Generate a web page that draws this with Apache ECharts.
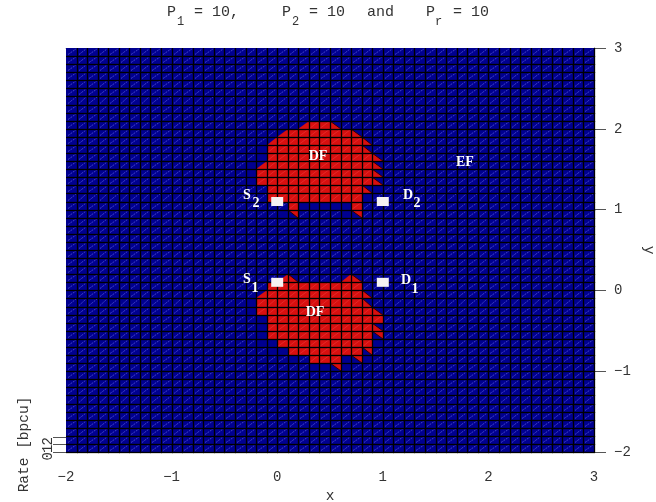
<!DOCTYPE html>
<html><head><meta charset="utf-8">
<style>html,body{margin:0;padding:0;background:#fff}#c{width:656px;height:502px}</style>
<script src="https://cdn.jsdelivr.net/npm/echarts@6/dist/echarts.min.js"></script></head>
<body><div id="c"></div>
<script>
// Mesh: 50 x 50 cells of 0.1 x 0.1. Cell column c starts at x=-2+0.1c, row r starts at y=3-0.1r (top).
const xRange = [-2, 3];
const yRange = [-2, 3];
const rateRange = [0, 2];
const rateTicks = [0, 1, 2];
const nCols = 50, nRows = 50;
// DF region: [row, firstCol, lastCol] of fully red cells
const dfFullRuns = [
 [9,23,24],[10,21,26],[11,20,27],[12,19,27],[13,19,28],[14,19,28],[15,18,28],[16,18,28],[17,19,27],[18,19,27],[19,21,21],[19,27,27],
 [29,19,27],[30,19,27],[31,18,27],[32,18,28],[33,19,29],[34,19,28],[35,19,28],[36,20,28],[37,21,27],[38,23,25]
];
// half red cells: [row, col]
const dfLowerRight = [[9,22],[10,20],[11,19],[14,18],[28,20],[28,26],[30,18]];
const dfLowerLeft = [[9,25],[10,27],[11,28],[12,28],[13,29],[14,29],[15,29],[16,29],[17,28],[28,21],[28,27],[30,28],[31,28],[32,29],[34,29]];
const dfUpperRight = [[20,21],[20,27],[35,29],[37,28],[38,27],[39,25]];
// shaded (plain blue) cells around the DF regions: [row, col]
const shadedCells = [[12,18],[13,18],[14,17],[15,17],[16,17],[19,22],[19,23],[19,24],[19,25],[19,26],[20,20],[20,26],[18,28],[17,29],
 [31,17],[32,17],[33,18],[34,18],[35,18],[36,18],[36,19],[37,19],[37,20],[38,21],[39,23],[39,24],[39,26],[38,26],[38,28],[36,29]];
const terminals = [[0,1.1],[1,1.1],[0,0.1],[1,0.1]];
const cellLabels = [['DF',0.386,1.657],['DF',0.358,-0.273],['EF',1.778,1.583],
 ['S',-0.286,1.175],['2',-0.2,1.076],['D',1.24,1.175],['2',1.324,1.076],
 ['S',-0.286,0.135],['1',-0.21,0.024],['D',1.22,0.12],['1',1.305,0.01]];
const titleParts = [['P',167,5,15],['1',177,16,12],['= 10,',194,5,15],['P',282,5,15],['2',292,16,12],['= 10',309,5,15],['and',367,5,15],['P',426,5,15],['r',435,16,12],['= 10',453,5,15]];

const key = (r,c) => r*1000+c;
const kind = new Map();
dfFullRuns.forEach(([r,a,b]) => { for (let c=a;c<=b;c++) kind.set(key(r,c),1); });
dfLowerRight.forEach(([r,c]) => kind.set(key(r,c),2));
dfLowerLeft.forEach(([r,c]) => kind.set(key(r,c),3));
dfUpperRight.forEach(([r,c]) => kind.set(key(r,c),4));
shadedCells.forEach(([r,c]) => kind.set(key(r,c),5));
const cells = [];
for (let r=0;r<nRows;r++) for (let c=0;c<nCols;c++) cells.push([c,r,kind.get(key(r,c))||0]);

const BLUE='#000090', RED='#d80f0f', mono='"Liberation Mono", monospace', INK='#333';
const GX={left:66,top:48,width:528,height:404,outerBoundsMode:'none'};

function corners(api){
  const c=api.value(0), r=api.value(1);
  const x0=xRange[0]+c*0.1, x1=x0+0.1, y1=yRange[1]-r*0.1, y0=y1-0.1;
  const pt=(x,y)=>{const p=api.coord([x,y]);return [Math.round(p[0]),Math.round(p[1])];};
  return {TL:pt(x0,y1),TR:pt(x1,y1),BL:pt(x0,y0),BR:pt(x1,y0)};
}
function renderFill(params, api){
  const k=api.value(2), {TL,TR,BL,BR}=corners(api);
  const kids=[{type:'polygon',shape:{points:[TL,TR,BR,BL]},style:{fill:k===1?RED:BLUE,stroke:null}}];
  if(k===2) kids.push({type:'polygon',shape:{points:[TR,BR,BL]},style:{fill:RED,stroke:null}});
  if(k===3) kids.push({type:'polygon',shape:{points:[TL,BR,BL]},style:{fill:RED,stroke:null}});
  if(k===4) kids.push({type:'polygon',shape:{points:[TL,TR,BR]},style:{fill:RED,stroke:null}});
  if(k===0) kids.push({type:'line',shape:{x1:BL[0]+2,y1:BL[1]-1.5,x2:TR[0]-1,y2:TR[1]+1},style:{stroke:'#5a5ad8',lineWidth:1,lineDash:[2,1],opacity:0.75}});
  else if(k===1) kids.push({type:'line',shape:{x1:BL[0],y1:BL[1],x2:TR[0],y2:TR[1]},style:{stroke:'#e83a3a',lineWidth:1,opacity:0.6}});
  else if(k===3||k===4) kids.push({type:'line',shape:{x1:TL[0],y1:TL[1],x2:BR[0],y2:BR[1]},style:{stroke:'#300',lineWidth:1}});
  return {type:'group',children:kids};
}
function renderEdges(params, api){
  const {TR,BL,BR}=corners(api);
  return {type:'group',children:[
    {type:'line',shape:{x1:BL[0],y1:BL[1]+0.5,x2:BR[0]+1,y2:BR[1]+0.5},style:{stroke:'#000',lineWidth:1.3}},
    {type:'line',shape:{x1:BR[0]+0.5,y1:BR[1]+1,x2:TR[0]+0.5,y2:TR[1]},style:{stroke:'#000',lineWidth:1.3}}
  ]};
}

const chart=echarts.init(document.getElementById('c'),null,{renderer:'canvas'});
const lbl={fontFamily:mono,fontSize:14,color:INK};
const nameStyle={fontFamily:mono,fontSize:14.5,color:INK};
const minus=v=>String(v).replace('-','\u2212');
chart.setOption({
  animation:false,
  backgroundColor:'#fff',
  title:titleParts.map(([t,x,y,s])=>({text:t,left:x,top:y,padding:0,textStyle:{fontFamily:mono,fontSize:s,fontWeight:'normal',color:INK}})),
  grid:[GX,{left:66,top:437,width:528,height:15,outerBoundsMode:'none'}],
  xAxis:[
   {type:'value',min:xRange[0],max:xRange[1],interval:1,position:'bottom',gridIndex:0,
    axisLine:{show:false},splitLine:{show:false},axisTick:{length:12,lineStyle:{color:'#555',width:1}},
    axisLabel:Object.assign({margin:18,hideOverlap:false,showMinLabel:true,showMaxLabel:true,formatter:minus},lbl),
    name:'x',nameLocation:'middle',nameGap:37,nameTextStyle:nameStyle},
   {type:'value',min:xRange[0],max:xRange[1],interval:1,position:'top',gridIndex:0,
    axisLine:{show:true,onZero:false,lineStyle:{color:'#999',width:1}},axisTick:{show:false},axisLabel:{show:false},splitLine:{show:false}},
   {type:'value',min:xRange[0],max:xRange[1],gridIndex:1,axisLine:{show:false},axisTick:{show:false},axisLabel:{show:false},splitLine:{show:false}}
  ],
  yAxis:[
   {type:'value',min:yRange[0],max:yRange[1],interval:1,position:'right',gridIndex:0,
    axisLine:{show:true,onZero:false,lineStyle:{color:'#555',width:1}},splitLine:{show:false},
    axisTick:{length:12,lineStyle:{color:'#555',width:1}},
    axisLabel:Object.assign({margin:20,hideOverlap:false,showMinLabel:true,showMaxLabel:true,formatter:minus},lbl),
    name:'y',nameLocation:'middle',nameRotate:-90,nameGap:40,nameTextStyle:nameStyle},
   {type:'value',min:rateRange[0],max:rateRange[1],interval:1,position:'left',gridIndex:1,
    axisLine:{show:false,onZero:false},splitLine:{show:false},
    axisTick:{length:13,lineStyle:{color:'#555',width:1}},
    axisLabel:{show:false},
    name:'Rate [bpcu]',nameLocation:'middle',nameRotate:90,nameGap:34,nameTextStyle:nameStyle}
  ],
  series:[
   {type:'custom',xAxisIndex:0,yAxisIndex:0,data:cells,renderItem:renderFill,silent:true,clip:false,z:2,encode:{x:0,y:1}},
   {type:'custom',xAxisIndex:0,yAxisIndex:0,data:cells,renderItem:renderEdges,silent:true,clip:false,z:3,encode:{x:0,y:1}},
   {type:'scatter',xAxisIndex:0,yAxisIndex:0,data:terminals,symbol:'rect',symbolSize:[12,9],silent:true,z:5,
    itemStyle:{color:'#f5f2f2',borderWidth:0,opacity:1}},
   {type:'scatter',xAxisIndex:0,yAxisIndex:0,data:cellLabels.map(d=>[d[1],d[2],d[0]]),symbolSize:0,silent:true,z:6,
    itemStyle:{opacity:1},
    label:{show:true,position:'inside',formatter:p=>p.value[2],fontFamily:'"Liberation Serif", serif',fontWeight:'bold',fontSize:14,color:'#fff',opacity:1}},
   {type:'scatter',xAxisIndex:2,yAxisIndex:1,data:rateTicks.map(v=>[xRange[0],v]),symbolSize:0,silent:true,clip:false,z:6,
    itemStyle:{opacity:1},
    label:{show:true,position:'left',distance:18,rotate:90,formatter:p=>String(p.value[1]),fontFamily:mono,fontSize:14,color:INK,opacity:1}}
  ]
});
</script></body></html>
